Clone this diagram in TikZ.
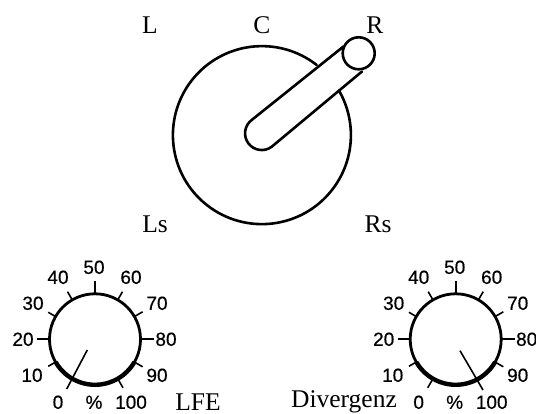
\documentclass[tikz,border=0pt]{standalone}
\usepackage{fontspec}
\setmainfont{Liberation Serif}
\newfontfamily\numfont[FakeBold=0.5]{Liberation Sans}
\usetikzlibrary{calc}
\tikzset{
  every node/.style={inner sep=0pt,outer sep=0pt,anchor=center},
  name lbl/.style={font=\rmfamily\fontsize{25.5}{25.5}\selectfont},
  scale lbl/.style={font=\numfont\fontsize{19}{19}\selectfont},
  heavy/.style={line width=2.6pt,line cap=round},
  tick/.style={line width=1.6pt},
  rim/.style={line width=2.8pt},
  rimlow/.style={line width=4.4pt},
}
\begin{document}
\begin{tikzpicture}[x=1pt,y=-1pt]
\useasboundingbox (0,0) rectangle (536,414);
% main dial
\coordinate (mc) at (262.5,135.5);
\coordinate (sm) at (358.7,53.3);
\coordinate (gapA) at (316.7,65);
\draw[heavy] (gapA) arc[start angle=-52,delta angle=-338,radius=89];
\draw[heavy] (sm) circle[radius=16];
\coordinate (slotA) at (343.5,46.5);
\coordinate (slotB) at (251.7,120);
\coordinate (slotC) at (362,71.5);
\draw[heavy] (slotA) -- (slotB) arc[start angle=233,delta angle=-180,radius=16.7] -- (slotC);
\node[name lbl] (nL) at (150,25) {L};
\node[name lbl] (nC) at (262,25) {C};
\node[name lbl] (nR) at (375,25) {R};
\node[name lbl] (nLs) at (155,224) {Ls};
\node[name lbl] (nRs) at (378,224) {Rs};
% left knob
\coordinate (lneedle) at (87.3,350);
\coordinate (lend) at (66.7,389);
\coordinate (lc) at (95,339.3);
\draw[rim] (lc) circle[radius=45.5];
\draw[rimlow] ($(lc)+(150:45.5)$) arc[start angle=150,delta angle=-120,radius=45.5];
\draw[tick] (lneedle) -- (lend);
\foreach \a/\len in {150/9,180/13,-150/9,-120/10,-90/13,-60/10,-30/10,0/14,30/10,60/11}{
  \draw[tick] ($(lc)+(\a:45)$) -- ($(lc)+(\a:45+\len)$);
}
\foreach \t/\dx/\dy in {0/-37/63,10/-63/36,20/-72/0,30/-62/-36,40/-37/-62,50/-1/-72,60/36/-62,70/62/-36,80/71/0,90/62/36,100/36/63,\%/-1/63}{
  \node[scale lbl] at ($(lc)+(\dx,\dy)$) {\t};
}
\node[name lbl] (lfe) at (198,402) {LFE};
% right knob
\coordinate (rneedle) at (460,350.7);
\coordinate (rend) at (483,390);
\coordinate (rc) at (455.7,339.3);
\draw[rim] (rc) circle[radius=45.5];
\draw[rimlow] ($(rc)+(150:45.5)$) arc[start angle=150,delta angle=-120,radius=45.5];
\draw[tick] (rneedle) -- (rend);
\foreach \a/\len in {120/11,150/9,180/13,-150/9,-120/10,-90/13,-60/10,-30/10,0/14,30/10}{
  \draw[tick] ($(rc)+(\a:45)$) -- ($(rc)+(\a:45+\len)$);
}
\foreach \t/\dx/\dy in {0/-37/63,10/-63/36,20/-72/0,30/-62/-36,40/-37/-62,50/-1/-72,60/36/-62,70/62/-36,80/71/0,90/62/36,100/36/63,\%/-1/63}{
  \node[scale lbl] at ($(rc)+(\dx,\dy)$) {\t};
}
\node[name lbl] (div) at (344,402) {Divergenz};
\end{tikzpicture}
\end{document}
